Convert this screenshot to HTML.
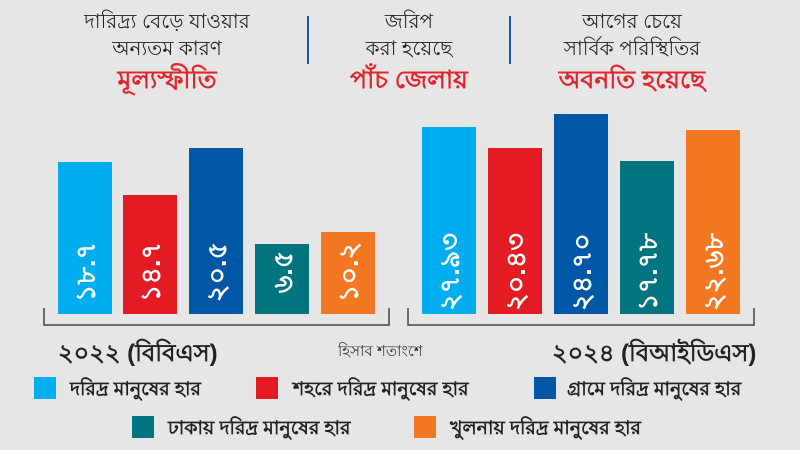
<!DOCTYPE html>
<html><head><meta charset="utf-8"><style>
html,body{margin:0;padding:0;background:#e5e6e5;}
svg{display:block;font-family:"Liberation Sans","DejaVu Sans",sans-serif;}
</style></head><body>
<svg width="800" height="450" viewBox="0 0 800 450" xmlns="http://www.w3.org/2000/svg">
<rect width="800" height="450" fill="#e5e6e5"/>
<g font-size="20" fill="#222" text-anchor="middle">
<text x="167" y="28">দারিদ্র্য বেড়ে যাওয়ার</text>
<text x="167" y="55">অন্যতম কারণ</text>
<text x="167" y="88" fill="#e3262b" font-weight="bold" font-size="25">মূল্যস্ফীতি</text>
<text x="409" y="28">জরিপ</text>
<text x="409" y="55">করা হয়েছে</text>
<text x="409" y="88" fill="#e3262b" font-weight="bold" font-size="25">পাঁচ জেলায়</text>
<text x="632" y="28">আগের চেয়ে</text>
<text x="632" y="55">সার্বিক পরিস্থিতির</text>
<text x="632" y="88" fill="#e3262b" font-weight="bold" font-size="25">অবনতি হয়েছে</text>
</g>
<line x1="308" y1="16" x2="308" y2="64" stroke="#1b5aa6" stroke-width="2"/>
<line x1="510" y1="16" x2="510" y2="64" stroke="#1b5aa6" stroke-width="2"/>
<rect x="58" y="162" width="54" height="152" fill="#00aeef"/>
<rect x="123" y="195" width="54" height="119" fill="#e31b23"/>
<rect x="189" y="148" width="54" height="166" fill="#0057a6"/>
<rect x="255" y="244" width="54" height="70" fill="#00757f"/>
<rect x="321" y="232" width="54" height="82" fill="#f47721"/>
<rect x="422" y="127" width="54" height="187" fill="#00aeef"/>
<rect x="488" y="148" width="54" height="166" fill="#e31b23"/>
<rect x="554" y="114" width="54" height="200" fill="#0057a6"/>
<rect x="620" y="161" width="54" height="153" fill="#00757f"/>
<rect x="686" y="130" width="54" height="184" fill="#f47721"/>
<g fill="#fff" font-size="27" font-weight="bold" text-anchor="middle">
<text transform="translate(95,272) rotate(-90)">১৮.৭</text>
<text transform="translate(160,272) rotate(-90)">১৪.৭</text>
<text transform="translate(226,272) rotate(-90)">২০.৫</text>
<text transform="translate(292,272) rotate(-90)">৬.৫</text>
<text transform="translate(358,272) rotate(-90)">১০.২</text>
<text transform="translate(459,272) rotate(-90)">২৭.৯৩</text>
<text transform="translate(525,272) rotate(-90)">২০.৪৩</text>
<text transform="translate(591,272) rotate(-90)">২৪.৭০</text>
<text transform="translate(657,272) rotate(-90)">১৭.৭৮</text>
<text transform="translate(723,272) rotate(-90)">২২.৬৮</text>
</g>
<path d="M44 308 V325 H389 V308" fill="none" stroke="#444" stroke-width="1.5"/>
<path d="M408 308 V325 H754 V308" fill="none" stroke="#444" stroke-width="1.5"/>
<text x="58" y="361" font-size="24" font-weight="bold" fill="#222">২০২২ (বিবিএস)</text>
<text x="338" y="356" font-size="15" fill="#333">হিসাব শতাংশে</text>
<text x="552" y="361" font-size="24" font-weight="bold" fill="#222">২০২৪ (বিআইডিএস)</text>
<g font-size="19" font-weight="bold" fill="#222">
<rect x="34" y="377" width="22" height="22" fill="#00aeef"/><text x="70" y="395">দরিদ্র মানুষের হার</text>
<rect x="256" y="377" width="22" height="22" fill="#e31b23"/><text x="293" y="395">শহরে দরিদ্র মানুষের হার</text>
<rect x="534" y="377" width="22" height="22" fill="#0057a6"/><text x="567" y="395">গ্রামে দরিদ্র মানুষের হার</text>
<rect x="132" y="416" width="22" height="22" fill="#00757f"/><text x="168" y="434">ঢাকায় দরিদ্র মানুষের হার</text>
<rect x="414" y="416" width="22" height="22" fill="#f47721"/><text x="450" y="434">খুলনায় দরিদ্র মানুষের হার</text>
</g>
</svg>
</body></html>
